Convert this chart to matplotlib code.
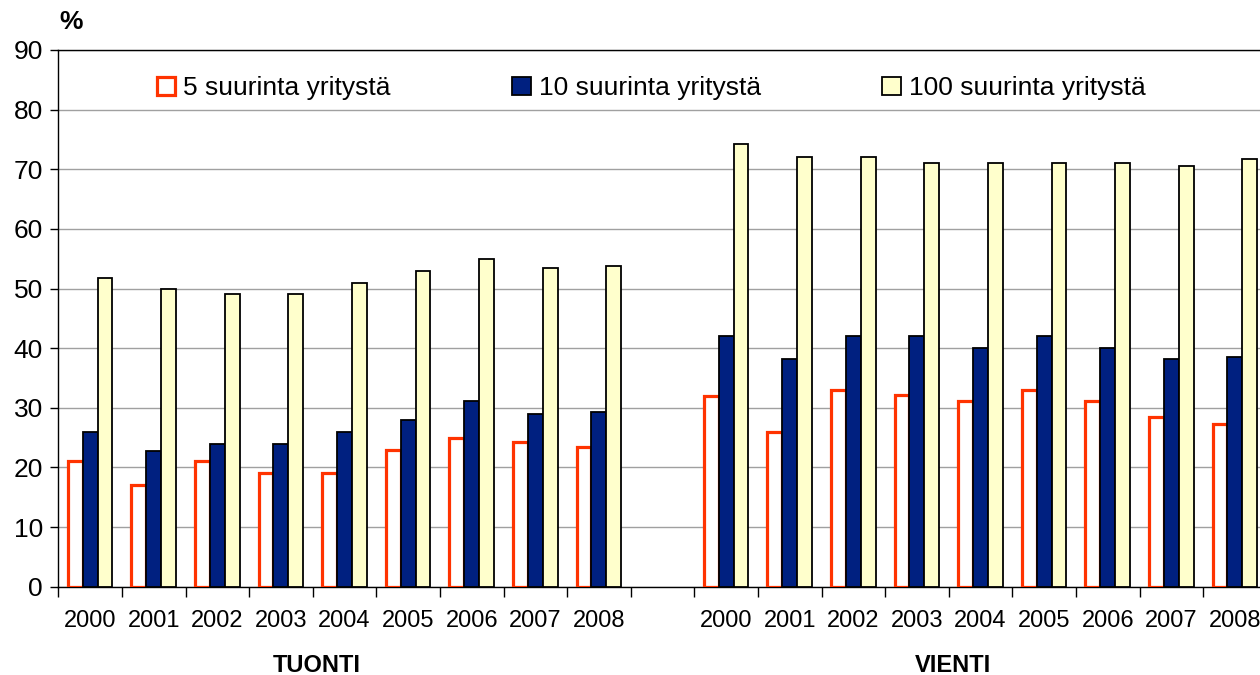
import numpy as np
import matplotlib
matplotlib.use("Agg")
import matplotlib.pyplot as plt
import matplotlib.transforms as mtransforms

plt.rcParams['font.family'] = ['Liberation Sans', 'DejaVu Sans']

years = ["2000", "2001", "2002", "2003", "2004", "2005", "2006", "2007", "2008"]
groups = ["TUONTI", "VIENTI"]
series = ["5 suurinta yritystä", "10 suurinta yritystä", "100 suurinta yritystä"]

# tuonti (import)
top5_tuonti = [21, 17, 21, 19, 19, 23, 25, 24.2, 23.5]
top10_tuonti = [26, 22.8, 24, 24, 26, 28, 31.2, 29, 29.3]
top100_tuonti = [51.8, 50, 49, 49, 51, 53, 55, 53.4, 53.7]
# vienti (export)
top5_vienti = [32, 26, 33, 32.1, 31.2, 33, 31.2, 28.5, 27.2]
top10_vienti = [42, 38.2, 42, 42, 40, 42, 40, 38.2, 38.5]
top100_vienti = [74.2, 72, 72, 71.1, 71.1, 71.1, 71.1, 70.5, 71.7]

# 9 + empty slot + 9 categories
labels = years + [""] + years
nan = [np.nan]
v5 = top5_tuonti + nan + top5_vienti
v10 = top10_tuonti + nan + top10_vienti
v100 = top100_tuonti + nan + top100_vienti

fig = plt.figure(figsize=(12.6, 6.75), dpi=100)
ax = fig.add_axes([58.3 / 1260, 88.3 / 675, 1208.4 / 1260, 536.7 / 675])

x = np.arange(len(labels))
w = 0.234
ax.bar(x - w, v5, w, color="white", edgecolor="#ff3300", linewidth=2.3,
       label=series[0], zorder=3)
ax.bar(x, v10, w, color="#002080", edgecolor="black", linewidth=1.3,
       label=series[1], zorder=3)
ax.bar(x + w, v100, w, color="#ffffcc", edgecolor="black", linewidth=1.3,
       label=series[2], zorder=3)

ax.set_xlim(-0.5, len(labels) - 0.5)
ax.set_ylim(0, 90)
ax.set_yticks(range(0, 91, 10))
ax.yaxis.grid(True, color="#a0a0a0", linewidth=1)
ax.set_axisbelow(True)

ax.set_xticks(x)
ax.set_xticklabels(labels, fontsize=17)
ax.set_xticks(np.arange(-0.5, len(labels), 1), minor=True)
ax.tick_params(axis="x", which="major", length=0, pad=17)
ax.tick_params(axis="x", which="minor", length=7, width=1, direction="out")
ax.tick_params(axis="y", labelsize=19, length=6, width=1, pad=5)

for s in ["left", "bottom", "top"]:
    ax.spines[s].set_color("black")
    ax.spines[s].set_linewidth(1)
ax.spines["right"].set_visible(False)

trans = mtransforms.blended_transform_factory(ax.transData, fig.transFigure)
ax.text(3.57, 1 - 665 / 675, groups[0], transform=trans, ha="center",
        va="center", fontsize=17, fontweight="bold")
ax.text(13.56, 1 - 665 / 675, groups[1], transform=trans, ha="center",
        va="center", fontsize=17, fontweight="bold")

fig.text(71 / 1260, 1 - 22 / 675, "%", ha="center", va="center",
         fontsize=19, fontweight="bold")

ax.legend(loc="center left", bbox_to_anchor=(157 / 1260, 1 - 88 / 675),
          bbox_transform=fig.transFigure, ncol=3, frameon=False,
          fontsize=19, handlelength=0.7, handleheight=0.7,
          handletextpad=0.3, columnspacing=4.6, borderpad=0,
          borderaxespad=0)

fig.savefig("out.png", dpi=100)
